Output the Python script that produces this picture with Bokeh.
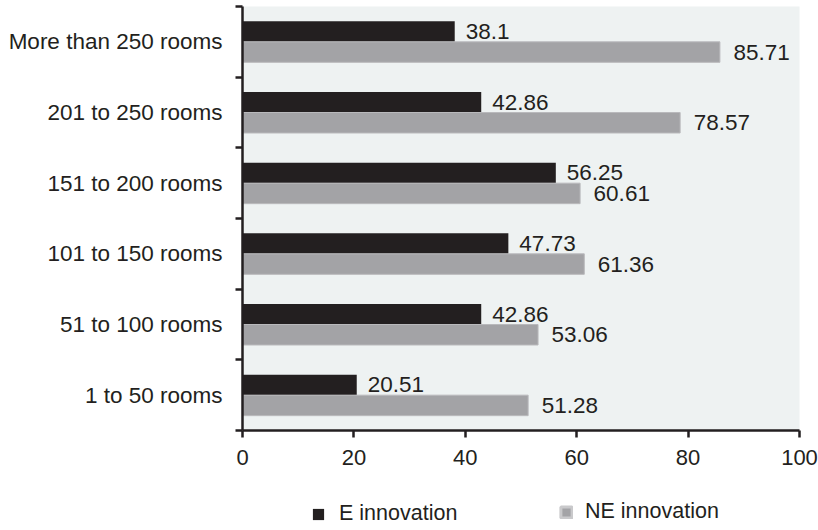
from bokeh.plotting import figure
from bokeh.layouts import column
from bokeh.models import (Range1d, FixedTicker, CustomJSTickFormatter, Legend,
                          LegendItem, ColumnDataSource)
from bokeh.core.properties import value
from bokeh.embed import file_html
from bokeh.resources import INLINE

# Share of hotels (%) by size class
categories = ["1 to 50 rooms", "51 to 100 rooms", "101 to 150 rooms",
              "151 to 200 rooms", "201 to 250 rooms", "More than 250 rooms"]
e_innovation = [20.51, 42.86, 47.73, 56.25, 42.86, 38.1]
ne_innovation = [51.28, 53.06, 61.36, 60.61, 78.57, 85.71]
x_ticks = [0, 20, 40, 60, 80, 100]
series_names = ["E innovation", "NE innovation"]

INK = "#231f20"
GREY = "#a3a3a6"
FONT = "Liberation Sans"
BAR = 0.29

centres = [i + 0.5 for i in range(len(categories))]
src = ColumnDataSource(dict(
    e=e_innovation,
    ne=ne_innovation,
    e_y=[c + BAR / 2 for c in centres],
    ne_y=[c - BAR / 2 for c in centres],
    e_txt=[str(v) for v in e_innovation],
    ne_txt=[str(v) for v in ne_innovation],
))

p = figure(width=818, height=480, x_range=Range1d(0, 100), y_range=Range1d(0, len(categories)),
           output_backend="svg", toolbar_location=None,
           min_border_left=242, min_border_right=19, min_border_top=6, min_border_bottom=50)
p.background_fill_color = "#eef2f2"
p.border_fill_color = "white"
p.outline_line_color = None
p.grid.visible = False

p.hbar(y="e_y", left=0, right="e", height=BAR, source=src,
       fill_color=INK, line_color=None)
p.hbar(y="ne_y", left=0, right="ne", height=BAR, source=src,
       fill_color=GREY, line_color="#b9b9bc", line_width=1)

p.text(x="e", y="e_y", text="e_txt", source=src, x_offset=11,
       text_align="left", text_baseline="middle",
       text_font=value(FONT), text_font_size="22.5px", text_color=INK)
p.text(x="ne", y="ne_y", text="ne_txt", source=src, x_offset=13.5,
       text_align="left", text_baseline="middle",
       text_font=value(FONT), text_font_size="22.5px", text_color=INK)

# x axis
xa = p.xaxis[0]
xa.ticker = FixedTicker(ticks=x_ticks)
xa.axis_line_color = INK
xa.axis_line_width = 2.5
xa.major_tick_line_color = INK
xa.major_tick_line_width = 2.5
xa.major_tick_out = 7
xa.major_tick_in = 0
xa.minor_tick_line_color = None
xa.major_label_standoff = 12
xa.major_label_text_font = FONT
xa.major_label_text_font_size = "22px"
xa.major_label_text_color = INK

# y axis: labels at category centres, ticks at category boundaries
ya = p.yaxis[0]
ya.ticker = FixedTicker(ticks=centres, minor_ticks=list(range(len(categories) + 1)))
ya.formatter = CustomJSTickFormatter(args=dict(labels=categories),
                                     code="return labels[Math.floor(tick)]")
ya.axis_line_color = INK
ya.axis_line_width = 2.5
ya.major_tick_out = 0
ya.major_tick_in = 0
ya.major_tick_line_color = None
ya.minor_tick_line_color = INK
ya.minor_tick_line_width = 2.5
ya.minor_tick_out = 7
ya.minor_tick_in = 0
ya.major_label_standoff = 13
ya.major_label_text_font = FONT
ya.major_label_text_font_size = "22.5px"
ya.major_label_text_color = INK

# legend strip underneath the chart (its frame lines up with the chart frame)
leg = figure(width=818, height=50, x_range=Range1d(0, 1), y_range=Range1d(0, 1),
             output_backend="svg", toolbar_location=None,
             x_axis_type=None, y_axis_type=None, min_border=0)
leg.outline_line_color = None
leg.grid.visible = False
leg.background_fill_color = "white"
leg.border_fill_color = "white"

# swatch renderers sit outside the visible range; only their legend glyphs show
e_swatch = leg.quad(left=[2], right=[3], top=[2], bottom=[3],
                    fill_color=INK, line_color=None)
ne_swatch = leg.quad(left=[2], right=[3], top=[2], bottom=[3],
                     fill_color=GREY, line_color="#c9c9cb", line_width=3)

common = dict(padding=0, margin=0, spacing=0, border_line_color=None,
              background_fill_alpha=0, glyph_width=14, glyph_height=14,
              label_text_font=FONT, label_text_font_size="21.5px",
              label_text_color=INK)
leg.add_layout(Legend(items=[LegendItem(label=series_names[0], renderers=[e_swatch])],
                      location=(69, 4), label_standoff=14, **common))
leg.add_layout(Legend(items=[LegendItem(label=series_names[1], renderers=[ne_swatch])],
                      location=(317, 6), label_standoff=12, **common))

open("out.html", "w").write(file_html(column(p, leg, spacing=0), INLINE))
